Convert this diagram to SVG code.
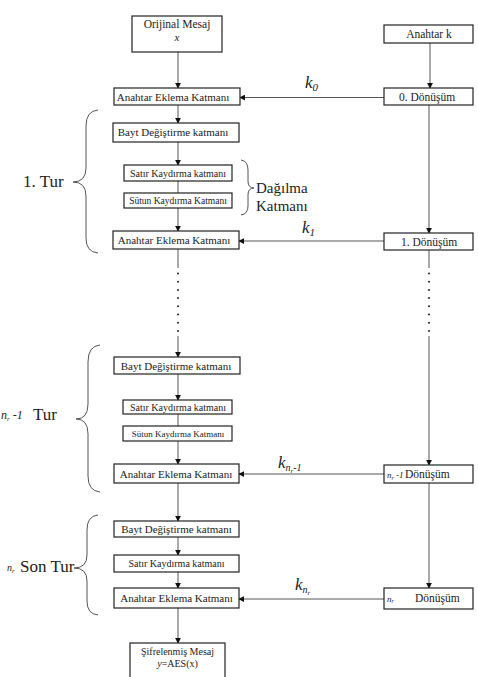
<svg xmlns="http://www.w3.org/2000/svg" width="478" height="677" viewBox="0 0 478 677">
<defs>
<marker id="ah" viewBox="0 0 8 8" refX="7" refY="4" markerWidth="6" markerHeight="6" orient="auto" markerUnits="userSpaceOnUse">
<path d="M0,0 L8,4 L0,8 z" fill="#111"/>
</marker>
<style>
text{font-family:'Liberation Serif',serif}
.box{fill:#fff;stroke:#222;stroke-width:1.2}
.t{font-size:11px;fill:#222;text-anchor:middle}
.ts{font-size:10px;fill:#222;text-anchor:middle}
.c{stroke:#555;stroke-width:1;fill:none}
.ca{stroke:#555;stroke-width:1;fill:none;marker-end:url(#ah)}
.dot{stroke:#222;stroke-width:2;stroke-linecap:round;stroke-dasharray:0 8.2;fill:none}
.br{stroke:#555;stroke-width:1;fill:none}
.big{font-size:17px;fill:#222}
.lab{font-size:15px;fill:#222}
.k{font-style:italic;font-size:17px;fill:#222}
.sub{font-style:italic;font-size:11px;fill:#222}
</style>
</defs>
<g id="connectors">
<line class="ca" x1="178" y1="52" x2="178" y2="88"/>
<line class="ca" x1="430" y1="43" x2="430" y2="88"/>
<line class="ca" x1="384" y1="97.5" x2="240" y2="97.5"/>
<line class="ca" x1="178" y1="105" x2="178" y2="123"/>
<line class="ca" x1="178" y1="142" x2="178" y2="165"/>
<line class="c" x1="178" y1="181" x2="178" y2="193"/>
<line class="ca" x1="178" y1="208" x2="178" y2="231"/>
<line class="ca" x1="429" y1="105" x2="429" y2="233"/>
<line class="ca" x1="384" y1="241" x2="239" y2="241"/>
<line class="c" x1="178" y1="249" x2="178" y2="268"/>
<line class="dot" x1="178" y1="273.5" x2="178" y2="333"/>
<line class="ca" x1="178" y1="336" x2="178" y2="357"/>
<line class="c" x1="429" y1="250" x2="429" y2="268"/>
<line class="dot" x1="429" y1="273.5" x2="429" y2="333"/>
<line class="ca" x1="429" y1="336" x2="429" y2="465"/>
<line class="ca" x1="178" y1="374" x2="178" y2="400"/>
<line class="c" x1="178" y1="414" x2="178" y2="426"/>
<line class="ca" x1="178" y1="441" x2="178" y2="464"/>
<line class="ca" x1="384" y1="474" x2="239" y2="474"/>
<line class="ca" x1="178" y1="483" x2="178" y2="521"/>
<line class="ca" x1="429" y1="483" x2="429" y2="588"/>
<line class="ca" x1="178" y1="537" x2="178" y2="555"/>
<line class="ca" x1="178" y1="572" x2="178" y2="588"/>
<line class="ca" x1="384" y1="599" x2="239" y2="599"/>
<line class="ca" x1="178" y1="608" x2="178" y2="643"/>
</g>
<g id="orig"><rect class="box" x="132" y="16" width="90" height="36"/><text class="t" x="177" y="28" style="font-size:11.5px">Orijinal Mesaj</text><text class="t" x="177" y="41" style="font-style:italic">x</text></g>
<g id="key"><rect class="box" x="384" y="25" width="89" height="18"/><text class="t" x="429" y="37.5" style="font-size:11.5px">Anahtar  k</text></g>
<g id="ak0"><rect class="box" x="114" y="88" width="126" height="17"/><text class="t" x="173" y="100.5">Anahtar Eklema Katmanı</text></g>
<g id="t0"><rect class="box" x="384" y="88" width="89" height="17"/><text class="t" x="427" y="100.5" style="font-size:11.5px">0. Dönüşüm</text></g>
<g id="bayt1"><rect class="box" x="113" y="123" width="126" height="19"/><text class="t" x="173" y="136">Bayt Değiştirme katmanı</text></g>
<g id="satir1"><rect class="box" x="124" y="165" width="108" height="16"/><text class="ts" x="178" y="176.5">Satır Kaydırma katmanı</text></g>
<g id="sutun1"><rect class="box" x="124" y="193" width="108" height="15"/><text class="ts" x="178" y="204" style="font-size:9.5px">Sütun Kaydırma Katmanı</text></g>
<g id="ak1"><rect class="box" x="113" y="231" width="126" height="18"/><text class="t" x="174" y="244">Anahtar Eklema Katmanı</text></g>
<g id="t1"><rect class="box" x="384" y="233" width="89" height="17"/><text class="t" x="429" y="245.5" style="font-size:11.5px">1. Dönüşüm</text></g>
<g id="bayt2"><rect class="box" x="114" y="357" width="126" height="17"/><text class="t" x="176" y="369.5">Bayt Değiştirme katmanı</text></g>
<g id="satir2"><rect class="box" x="123" y="400" width="109" height="14"/><text class="ts" x="178" y="410.5">Satır Kaydırma katmanı</text></g>
<g id="sutun2"><rect class="box" x="123" y="426" width="109" height="15"/><text class="ts" x="178" y="437" style="font-size:9px">Sütun Kaydırma Katmanı</text></g>
<g id="ak2"><rect class="box" x="114" y="464" width="125" height="19"/><text class="t" x="176" y="477.5">Anahtar Eklema Katmanı</text></g>
<g id="t2"><rect class="box" x="384" y="465" width="89" height="18"/><text x="387" y="477.5" class="sub" style="font-size:9px">n<tspan style="font-size:6px" dy="2">r</tspan><tspan dy="-2"> -1</tspan></text><text class="t" x="405" y="478" style="text-anchor:start;font-size:11.5px">Dönüşüm</text></g>
<g id="bayt3"><rect class="box" x="114" y="521" width="125" height="16"/><text class="t" x="176.5" y="533">Bayt Değiştirme katmanı</text></g>
<g id="satir3"><rect class="box" x="114" y="555" width="125" height="17"/><text class="ts" x="176.5" y="567">Satır Kaydırma katmanı</text></g>
<g id="ak3"><rect class="box" x="114" y="588" width="125" height="20"/><text class="t" x="176.5" y="602">Anahtar Eklema Katmanı</text></g>
<g id="t3"><rect class="box" x="384" y="588" width="89" height="21"/><text x="387" y="601.5" class="sub" style="font-size:9px">n<tspan style="font-size:6px" dy="1.5">r</tspan></text><text class="t" x="415" y="602" style="text-anchor:start;font-size:11.5px">Dönüşüm</text></g>
<g id="out"><rect class="box" x="130" y="643" width="95" height="40"/><text class="ts" x="177.5" y="655">Şifrelenmiş Mesaj</text><text class="ts" x="177.5" y="666.5"><tspan style="font-style:italic">y</tspan>=AES(x)</text></g>
<g id="braces">
<path class="br" d="M98,110 Q86,111 86,126 L86,168 Q86,182 73,182 Q86,182 86,196 L86,238 Q86,252 98,253"/>
<path class="br" d="M241,160 Q248,161 248,170 L248,181 Q248,188 254,188 Q248,188 248,195 L248,206 Q248,214 241,215"/>
<path class="br" d="M100,345 Q88,346 88,362 L88,404 Q88,419 76,419 Q88,419 88,434 L88,476 Q88,491 100,492"/>
<path class="br" d="M98,515 Q87,516 87,530 L87,555 Q87,568 74,568 Q87,568 87,581 L87,601 Q87,614 98,615"/>
</g>
<g id="labels">
<text class="big" x="23" y="187">1. Tur</text>
<text class="lab" x="256" y="193">Dağılma</text>
<text class="lab" x="256" y="211">Katmanı</text>
<text class="sub" x="1" y="419" style="font-size:12px">n<tspan style="font-size:7px" dy="2">r</tspan><tspan dy="-2"> -1</tspan></text>
<text class="big" x="33" y="420">Tur</text>
<text class="sub" x="7" y="571" style="font-size:10px">n<tspan style="font-size:7px" dy="1.5">r</tspan></text>
<text class="big" x="20" y="572">Son Tur</text>
<text class="k" x="305" y="88">k<tspan style="font-size:11px" dy="3">0</tspan></text>
<text class="k" x="302" y="233">k<tspan style="font-size:11px" dy="3">1</tspan></text>
<text class="k" x="278" y="468">k<tspan style="font-size:10px" dy="3">n</tspan><tspan style="font-size:7px" dy="2">r</tspan><tspan style="font-size:10px" dy="-2">-1</tspan></text>
<text class="k" x="295" y="590">k<tspan style="font-size:10px" dy="3">n</tspan><tspan style="font-size:7px" dy="2">r</tspan></text>
</g>
</svg>
